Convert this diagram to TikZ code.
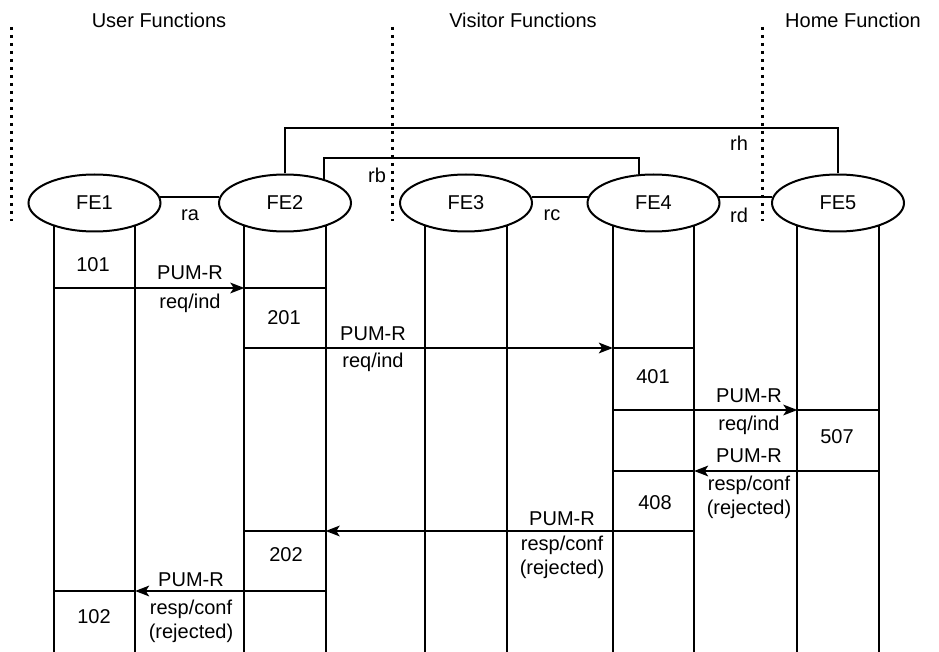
\documentclass[tikz,border=0pt]{standalone}
\usepackage{fontspec}
\setmainfont{Liberation Sans}
\usetikzlibrary{arrows.meta,shapes.geometric}
\begin{document}
\begin{tikzpicture}[x=0.75pt,y=-0.75pt,
  every node/.style={font=\fontsize{15pt}{18pt}\selectfont, inner sep=0pt},
  fe/.style={ellipse, draw, line width=1.5pt, fill=white, minimum width=99pt, minimum height=42.75pt},
  ln/.style={line width=1.5pt},
  msg/.style={line width=1.5pt, -{Stealth[length=10.5pt,width=8pt,inset=2.5pt]}},
  sepline/.style={line width=2.25pt, dash pattern=on 2.25pt off 3.75pt},
  lbl/.style={align=center},
]
\useasboundingbox (0,0) rectangle (939,652);

% headers
\node (h1) at (159,20) {User Functions};
\node (h2) at (523,20) {Visitor Functions};
\node (h3) at (853,20) {Home Function};

% separators
\coordinate (s1a) at (11,27);  \coordinate (s1b) at (11,221);
\coordinate (s2a) at (392,27); \coordinate (s2b) at (392,221);
\coordinate (s3a) at (762,27); \coordinate (s3b) at (762,221);
\draw[sepline] (s1a) -- (s1b);
\draw[sepline] (s2a) -- (s2b);
\draw[sepline] (s3a) -- (s3b);

% functional entities
\node[fe] (FE1) at (94.5,203) {FE1};
\node[fe] (FE2) at (285,203) {FE2};
\node[fe] (FE3) at (466,203) {FE3};
\node[fe] (FE4) at (653.5,203) {FE4};
\node[fe] (FE5) at (838,203) {FE5};

\coordinate (bot) at (0,652);
\foreach \n in {FE1,FE2,FE3,FE4,FE5} {
  \draw[ln] (\n.210) -- (\n.210 |- bot);
  \draw[ln] (\n.330) -- (\n.330 |- bot);
}

% relationships
\draw[ln] (FE1.5) -- (FE2.175);
\draw[ln] (FE3.5) -- (FE4.175);
\draw[ln] (FE4.5) -- (FE5.175);
\coordinate (rbY) at (0,158);
\draw[ln] (FE2.32) |- (FE4.117 |- rbY) -- (FE4.117);
\coordinate (rhY) at (0,128);
\draw[ln] (FE2.north) |- (FE5.north |- rhY) -- (FE5.north);

\node (ra) at (190,215) {ra};
\node (rb) at (377,175) {rb};
\node (rc) at (552,215) {rc};
\node (rd) at (739,215) {rd};
\node (rh) at (739,143) {rh};

% messages
\coordinate (y1) at (0,288);
\coordinate (y2) at (0,348);
\coordinate (y3) at (0,410);
\coordinate (y4) at (0,471);
\coordinate (y5) at (0,531);
\coordinate (y6) at (0,591);

\draw[msg] (FE1.210 |- y1) -- (FE2.210 |- y1);
\draw[ln]  (FE2.210 |- y1) -- (FE2.330 |- y1);
\draw[msg] (FE2.210 |- y2) -- (FE4.210 |- y2);
\draw[ln]  (FE4.210 |- y2) -- (FE4.330 |- y2);
\draw[msg] (FE4.210 |- y3) -- (FE5.210 |- y3);
\draw[ln]  (FE5.210 |- y3) -- (FE5.330 |- y3);
\draw[msg] (FE5.330 |- y4) -- (FE4.330 |- y4);
\draw[ln]  (FE4.330 |- y4) -- (FE4.210 |- y4);
\draw[msg] (FE4.330 |- y5) -- (FE2.330 |- y5);
\draw[ln]  (FE2.330 |- y5) -- (FE2.210 |- y5);
\draw[msg] (FE2.330 |- y6) -- (FE1.330 |- y6);
\draw[ln]  (FE1.330 |- y6) -- (FE1.210 |- y6);

% step numbers
\node (n101) at (93,265) {101};
\node (n201) at (284,318) {201};
\node (n401) at (653,377) {401};
\node (n507) at (837,437) {507};
\node (n408) at (655,503) {408};
\node (n202) at (286,555) {202};
\node (n102) at (94,617) {102};

% message labels
\node (l1a) at (190,273) {PUM-R};
\node (l1b) at (190,303) {req/ind};
\node (l2a) at (373,334) {PUM-R};
\node (l2b) at (373,362) {req/ind};
\node (l3a) at (749,396) {PUM-R};
\node (l3b) at (749,425) {req/ind};
\node (l4a) at (749,456) {PUM-R};
\node[lbl] (l4b) at (749,497.5) {resp/conf\\(rejected)};
\node (l5a) at (562,519) {PUM-R};
\node[lbl] (l5b) at (562,557.5) {resp/conf\\(rejected)};
\node (l6a) at (191,580) {PUM-R};
\node[lbl] (l6b) at (191,621) {resp/conf\\(rejected)};
\end{tikzpicture}
\end{document}
